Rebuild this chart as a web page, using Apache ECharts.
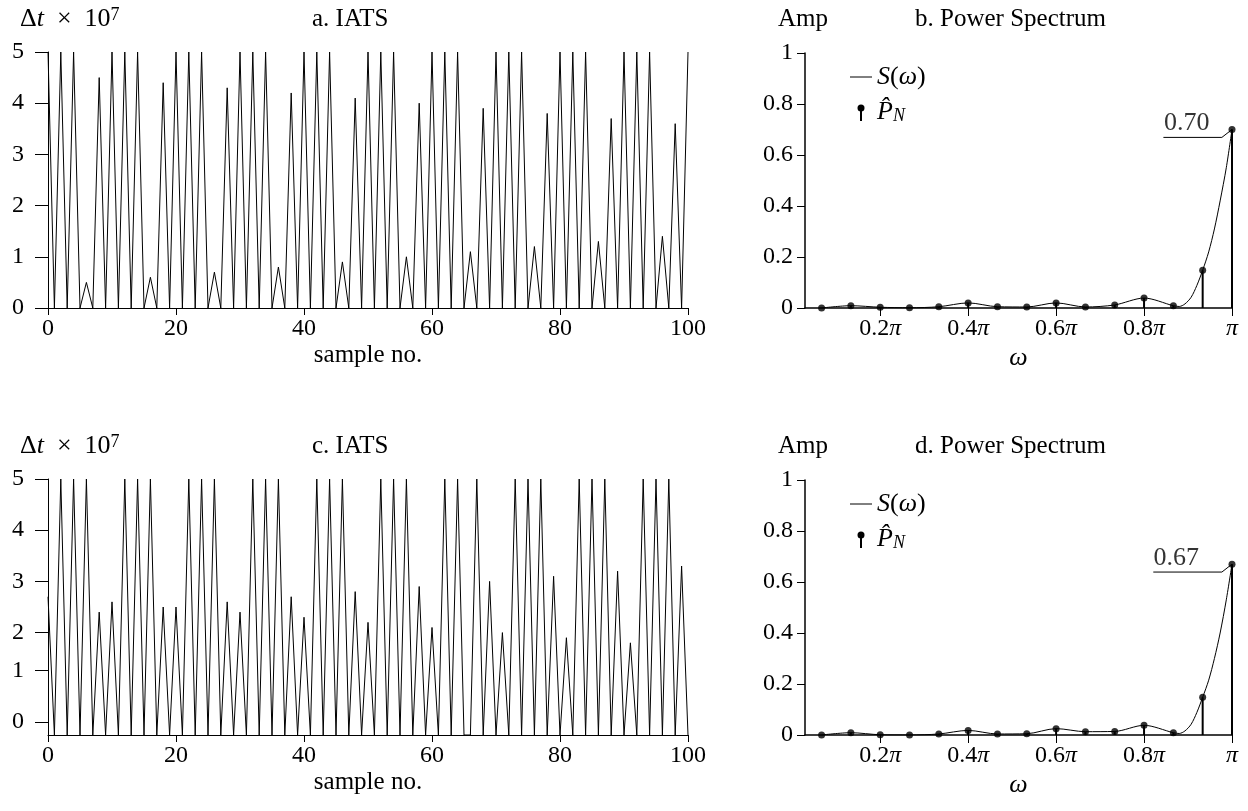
<!DOCTYPE html>
<html><head><meta charset="utf-8">
<script src="https://cdn.jsdelivr.net/npm/echarts@6/dist/echarts.min.js"></script>
<style>html,body{margin:0;padding:0;background:#fff}#c{width:1248px;height:811px}</style>
</head><body><div id="c"></div>
<script>
// ---------- data ----------
const iatsA = [5,0,5,0,5,0,0.5,0,4.5,0,
  5,0,5,0,5,0,0.6,0,4.4,0,
  5,0,5,0,5,0,0.7,0,4.3,0,
  5,0,5,0,5,0,0.8,0,4.2,0,
  5,0,5,0,5,0,0.9,0,4.1,0,
  5,0,5,0,5,0,1.0,0,4.0,0,
  5,0,5,0,5,0,1.1,0,3.9,0,
  5,0,5,0,5,0,1.2,0,3.8,0,
  5,0,5,0,5,0,1.3,0,3.7,0,
  5,0,5,0,5,0,1.4,0,3.6,0,
  5];
const iatsC = [2.7,0,5,0,5,0,5,0,2.4,0,
  2.6,0,5,0,5,0,5,0,2.5,0,
  2.5,0,5,0,5,0,5,0,2.6,0,
  2.4,0,5,0,5,0,5,0,2.7,0,
  2.3,0,5,0,5,0,5,0,2.8,0,
  2.2,0,5,0,5,0,5,0,2.9,0,
  2.1,0,5,0,5,0,0,5,0,3.0,
  0,2.0,0,5,0,5,0,5,0,3.1,
  0,1.9,0,5,0,5,0,5,0,3.2,
  0,1.8,0,5,0,5,0,5,0,3.3,
  0];
const iatsXTicks = [0,20,40,60,80,100];
const iatsAYTicks = [0,1,2,3,4,5];
const iatsCYTickValues = [0.25,1.26,2,3,4,5];
const iatsCYTickLabels = ['0','1','2','3','4','5'];

// omega in units of pi
const omega = [0.0667,0.1333,0.2,0.2667,0.3333,0.4,0.4667,0.5333,0.6,0.6667,0.7333,0.8,0.8667,0.9333,1.0];
const pHatB = [0.0,0.009,0.003,0.001,0.005,0.02,0.005,0.004,0.02,0.004,0.012,0.039,0.009,0.148,0.70];
const pHatD = [0.0,0.009,0.001,0.0,0.004,0.018,0.004,0.005,0.025,0.013,0.014,0.038,0.009,0.148,0.67];
const sOmega = [0.0667,0.1333,0.2,0.2667,0.3333,0.4,0.4667,0.5333,0.6,0.6667,0.7333,0.8,0.8667,0.88,0.893,0.907,0.92,0.9333,0.947,0.96,0.973,0.987,1.0];
const sB = [0.0,0.009,0.003,0.001,0.005,0.02,0.005,0.004,0.02,0.004,0.012,0.039,0.009,0.006,0.016,0.042,0.088,0.148,0.22,0.31,0.42,0.55,0.70];
const sD = [0.0,0.009,0.001,0.0,0.004,0.018,0.004,0.005,0.025,0.013,0.014,0.038,0.009,0.006,0.016,0.042,0.088,0.148,0.215,0.30,0.40,0.53,0.67];
const omegaTicks = [0.2,0.4,0.6,0.8,1];
const ampTicks = [0,0.2,0.4,0.6,0.8,1];

// ---------- chart ----------
const FONT = '"Liberation Serif", "DejaVu Serif", serif';
const BLACK = '#000';
const TICK_FS = 24;
const chart = echarts.init(document.getElementById('c'), null, {renderer:'canvas'});

const pairs = (xs, ys) => ys.map((v, i) => [xs[i], v]);
const idxPairs = ys => ys.map((v, i) => [i, v]);

function iatsX(grid) {
  return {type:'value', gridIndex:grid, min:0, max:100, interval:20,
    axisLine:{show:true, onZero:false, lineStyle:{color:BLACK, width:1}},
    axisTick:{show:true, inside:false, length:7, customValues:iatsXTicks, lineStyle:{color:BLACK, width:1}},
    axisLabel:{color:BLACK, fontFamily:FONT, fontSize:TICK_FS, margin:9, customValues:iatsXTicks},
    splitLine:{show:false},
    name:'sample no.', nameLocation:'middle', nameGap:35,
    nameTextStyle:{color:BLACK, fontFamily:FONT, fontSize:25}};
}
function specX(grid) {
  return {type:'value', gridIndex:grid, min:0.029, max:1,
    axisLine:{show:true, onZero:false, lineStyle:{color:BLACK, width:1.5}},
    axisTick:{show:true, inside:false, length:8, customValues:omegaTicks, lineStyle:{color:BLACK, width:1}},
    axisLabel:{color:BLACK, fontFamily:FONT, fontSize:TICK_FS, margin:9, customValues:omegaTicks,
      formatter: v => v === 1 ? '{it|π}' : '{n|' + v + '}{it|π}',
      rich:{n:{fontFamily:FONT, fontSize:TICK_FS, color:BLACK}, it:{fontFamily:FONT, fontStyle:'italic', fontSize:TICK_FS, color:BLACK}}},
    splitLine:{show:false},
    name:'ω', nameLocation:'middle', nameGap:37,
    nameTextStyle:{color:BLACK, fontFamily:FONT, fontStyle:'italic', fontSize:26}};
}
function specY(grid) {
  return {type:'value', gridIndex:grid, min:0, max:1, interval:0.2,
    axisLine:{show:true, lineStyle:{color:BLACK, width:1.5}},
    axisTick:{show:true, inside:false, length:8, customValues:ampTicks, lineStyle:{color:BLACK, width:1}},
    axisLabel:{color:BLACK, fontFamily:FONT, fontSize:TICK_FS, margin:12, customValues:ampTicks},
    splitLine:{show:false}};
}

function specSeries(ax, pHat, sVals) {
  const peak = pHat[pHat.length - 1];
  const lastW = omega[omega.length - 1];
  return [
    {type:'line', xAxisIndex:ax, yAxisIndex:ax, data:pairs(sOmega, sVals), showSymbol:false, symbol:'none',
      smooth:0.3, lineStyle:{color:BLACK, width:1}, silent:true, z:2},
    {type:'bar', xAxisIndex:ax, yAxisIndex:ax, data:pairs(omega, pHat), barWidth:2,
      itemStyle:{color:BLACK}, silent:true, z:3},
    {type:'scatter', xAxisIndex:ax, yAxisIndex:ax, data:pairs(omega, pHat), symbol:'circle', symbolSize:7,
      itemStyle:{color:BLACK}, silent:true, z:4},
    // leader line for the peak annotation
    {type:'line', xAxisIndex:ax, yAxisIndex:ax, symbol:'none', silent:true, z:2,
      lineStyle:{color:BLACK, width:1},
      data:[[lastW - (ax === 1 ? 0.156 : 0.179), peak - 0.031], [lastW - 0.023, peak - 0.031], [lastW, peak]]},
    {type:'scatter', xAxisIndex:ax, yAxisIndex:ax, symbolSize:0, silent:true,
      data:[{value:[lastW - (ax === 1 ? 0.103 : 0.127), peak - 0.031],
        label:{show:true, position:'top', distance:1, formatter: peak.toFixed(2),
          color:BLACK, fontFamily:FONT, fontSize:26}}]}
  ];
}

const richMath = {
  n:{fontFamily:FONT, fontSize:26, color:BLACK},
  t:{fontFamily:FONT, fontSize:25, color:BLACK},
  it:{fontFamily:FONT, fontStyle:'italic', fontSize:26, color:BLACK},
  sup:{fontFamily:FONT, fontSize:18, color:BLACK, verticalAlign:'top'},
  sub:{fontFamily:FONT, fontStyle:'italic', fontSize:18, color:BLACK, verticalAlign:'bottom'}
};
function txt(x, y, text, size) {
  return {type:'text', x:x, y:y, silent:true,
    style:{text:text, fill:BLACK, font:(size || 25) + 'px ' + FONT, verticalAlign:'middle', align:'left', rich:richMath}};
}
function legendGfx(dy) {
  return [
    {type:'line', silent:true, shape:{x1:850, y1:77 + dy, x2:872, y2:77 + dy}, style:{stroke:BLACK, lineWidth:1}},
    txt(877, 77 + dy, '{it|S}{n|(}{it|ω}{n|)}'),
    {type:'line', silent:true, shape:{x1:861, y1:108 + dy, x2:861, y2:121 + dy}, style:{stroke:BLACK, lineWidth:2}},
    {type:'circle', silent:true, shape:{cx:861, cy:108 + dy, r:3.5}, style:{fill:BLACK}},
    txt(877, 112 + dy, '{it|P\u0302}{sub|N}')
  ];
}

const option = {
  animation:false,
  backgroundColor:'#fff',
  grid:[
    {left:48, top:52, width:640, height:256},
    {left:805, top:53, width:427, height:255},
    {left:48, top:479, width:640, height:256},
    {left:805, top:480, width:427, height:255}
  ],
  xAxis:[iatsX(0), specX(1), iatsX(2), specX(3)],
  yAxis:[
    {type:'value', gridIndex:0, min:0, max:5, interval:1,
      axisLine:{show:true, lineStyle:{color:BLACK, width:1}},
      axisTick:{show:true, inside:false, length:13, customValues:iatsAYTicks, lineStyle:{color:BLACK, width:1}},
      axisLabel:{color:BLACK, fontFamily:FONT, fontSize:TICK_FS, margin:24, customValues:iatsAYTicks},
      splitLine:{show:false}},
    specY(1),
    {type:'value', gridIndex:2, min:0, max:5, interval:1,
      axisLine:{show:true, lineStyle:{color:BLACK, width:1}},
      axisTick:{show:true, inside:false, length:13, customValues:iatsCYTickValues, lineStyle:{color:BLACK, width:1}},
      axisLabel:{color:BLACK, fontFamily:FONT, fontSize:TICK_FS, margin:24, customValues:iatsCYTickValues,
        formatter: v => iatsCYTickLabels[iatsCYTickValues.indexOf(v)]},
      splitLine:{show:false}},
    specY(3)
  ],
  series:[
    {type:'line', xAxisIndex:0, yAxisIndex:0, data:idxPairs(iatsA), showSymbol:false, symbol:'none',
      lineStyle:{color:BLACK, width:1}, silent:true},
    {type:'line', xAxisIndex:2, yAxisIndex:2, data:idxPairs(iatsC), showSymbol:false, symbol:'none',
      lineStyle:{color:BLACK, width:1}, silent:true},
    ...specSeries(1, pHatB, sB),
    ...specSeries(3, pHatD, sD)
  ],
  graphic:[
    txt(20, 19, '{n|Δ}{it|t}{n|  ×  10}{sup|7}'),
    txt(312, 19, 'a. IATS'),
    txt(778, 19, 'Amp'),
    txt(915, 19, 'b. Power Spectrum'),
    txt(20, 446, '{n|Δ}{it|t}{n|  ×  10}{sup|7}'),
    txt(312, 446, 'c. IATS'),
    txt(778, 446, 'Amp'),
    txt(915, 446, 'd. Power Spectrum'),
    ...legendGfx(0),
    ...legendGfx(427)
  ]
};
chart.setOption(option);
</script></body></html>
